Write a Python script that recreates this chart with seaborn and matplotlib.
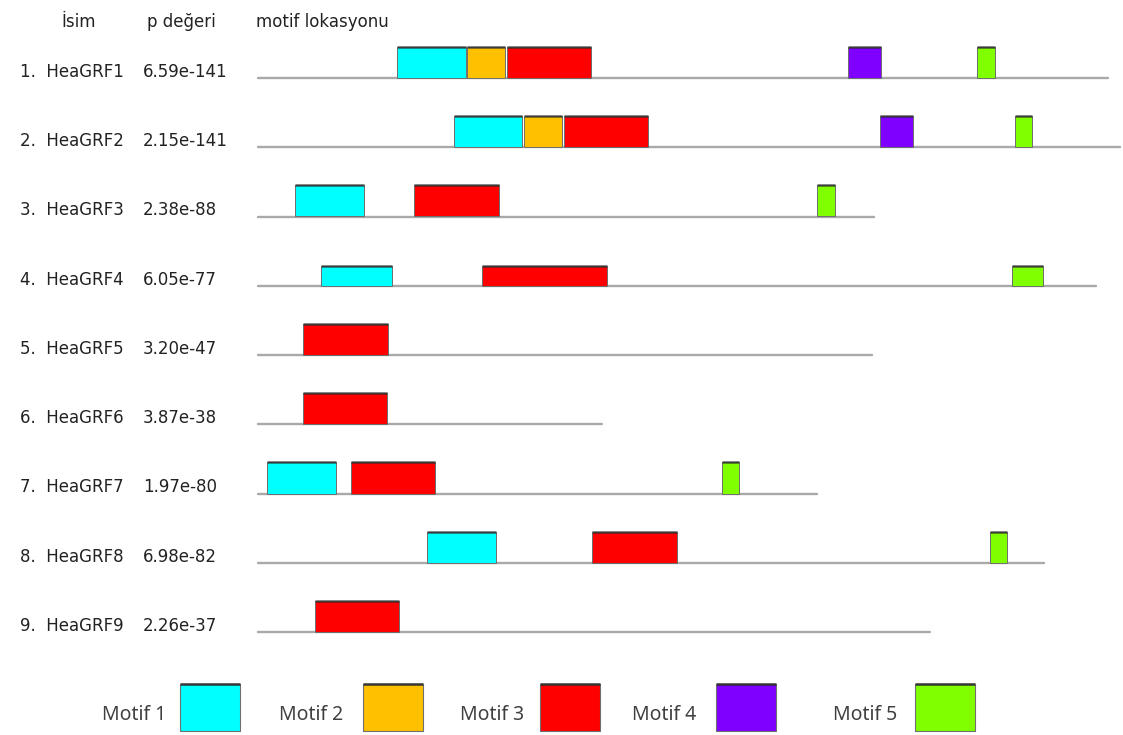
import matplotlib
matplotlib.use("Agg")
import matplotlib.pyplot as plt
from matplotlib.patches import Rectangle
import numpy as np
import pandas as pd
import seaborn as sns

# ---- data -------------------------------------------------------------
genes = ["HeaGRF1", "HeaGRF2", "HeaGRF3", "HeaGRF4", "HeaGRF5",
         "HeaGRF6", "HeaGRF7", "HeaGRF8", "HeaGRF9"]
p_values = ["6.59e-141", "2.15e-141", "2.38e-88", "6.05e-77", "3.20e-47",
            "3.87e-38", "1.97e-80", "6.98e-82", "2.26e-37"]
seq_length = [850, 862, 616, 838, 614, 344, 559, 786, 672]

motif_names = ["Motif 1", "Motif 2", "Motif 3", "Motif 4", "Motif 5"]
motif_colors = ["#00FFFF", "#FFC000", "#FF0000", "#7F00FF", "#80FF00"]

# (gene index, motif index, start, end)
motif_gene = [0, 0, 0, 0, 0,
              1, 1, 1, 1, 1,
              2, 2, 2,
              3, 3, 3,
              4,
              5,
              6, 6, 6,
              7, 7, 7,
              8]
motif_id = [0, 1, 2, 3, 4,
            0, 1, 2, 3, 4,
            0, 2, 4,
            0, 2, 4,
            2,
            2,
            0, 2, 4,
            0, 2, 4,
            2]
motif_start = [139, 209, 249, 590, 719,
               196, 266, 306, 622, 757,
               37, 156, 559,
               63, 224, 754,
               45,
               45,
               9, 93, 464,
               169, 334, 732,
               57]
motif_end = [208, 247, 333, 623, 737,
             264, 304, 390, 655, 774,
             106, 241, 577,
             134, 349, 785,
             130,
             129,
             78, 177, 481,
             238, 419, 749,
             141]
box_height = [0.45, 0.45, 0.45, 0.29, 0.45, 0.45, 0.45, 0.45, 0.45]

# ---- style ------------------------------------------------------------
sns.set_theme(style="white")
plt.rcParams["font.family"] = ["Noto Sans", "DejaVu Sans"]
label_font = ["DejaVu Sans"]
label_size = 12

W, H = 1123, 735
fig = plt.figure(figsize=(W / 100, H / 100), dpi=100)
ax = fig.add_axes([0, 0, 1, 1])

row_px0, row_step = 78.0, 69.25
left_px = 258.0

# backbone lines drawn via seaborn
backbone = pd.DataFrame({
    "gene": np.repeat(genes, 2),
    "pos": np.ravel([[0, L] for L in seq_length]),
    "row": np.repeat(np.arange(len(genes)), 2),
})
sns.lineplot(data=backbone, x="pos", y="row", units="gene", estimator=None,
             color="#a9a9a9", linewidth=1.7, ax=ax, legend=False, sort=False)
ax.set_xlabel("")
ax.set_ylabel("")
ax.set_xlim(-left_px, W - left_px)
ax.set_ylim((H - row_px0) / row_step, -row_px0 / row_step)
ax.set_axis_off()

# motif boxes
for g, m, s, e in zip(motif_gene, motif_id, motif_start, motif_end):
    h = box_height[g]
    ax.add_patch(Rectangle((s, g - h), e - s, h, facecolor=motif_colors[m],
                           edgecolor="#6e6e6e", linewidth=0.7, zorder=3))
    ax.plot([s, e], [g - h, g - h], color="#2b2b2b", alpha=0.75,
            linewidth=1.8, solid_capstyle="butt", zorder=4)

# row labels
for i, (name, p) in enumerate(zip(genes, p_values)):
    ax.text(20 - left_px, i - 0.015, f"{i + 1}.  {name}", fontsize=label_size,
            family=label_font, color="#222222", va="baseline", ha="left")
    ax.text(143 - left_px, i - 0.015, p, fontsize=label_size,
            family=label_font, color="#222222", va="baseline", ha="left")

# column headers
hdr_y = (27 - row_px0) / row_step
for hx, txt in [(61, "İsim"), (147, "p değeri"), (256, "motif lokasyonu")]:
    ax.text(hx - left_px, hdr_y, txt, fontsize=label_size, family=label_font,
            color="#222222", va="baseline")

# legend
lg = fig.add_axes([0, 0, 1, 1])
lg.set_xlim(0, W)
lg.set_ylim(H, 0)
lg.set_axis_off()
lg.patch.set_alpha(0)
legend_text_x = [102, 279, 460, 632, 833]
legend_box_x = [180, 363, 540, 716, 915]
for name, col, tx, bx in zip(motif_names, motif_colors, legend_text_x, legend_box_x):
    lg.text(tx, 720, name, fontsize=14, color="#404040", va="baseline", ha="left")
    lg.add_patch(Rectangle((bx, 684), 60, 47, facecolor=col,
                           edgecolor="#707070", linewidth=0.8))
    lg.plot([bx, bx + 60], [684, 684], color="#2b2b2b", alpha=0.8,
            linewidth=2.0, solid_capstyle="butt")

fig.savefig("out.png", dpi=100, facecolor="white")
